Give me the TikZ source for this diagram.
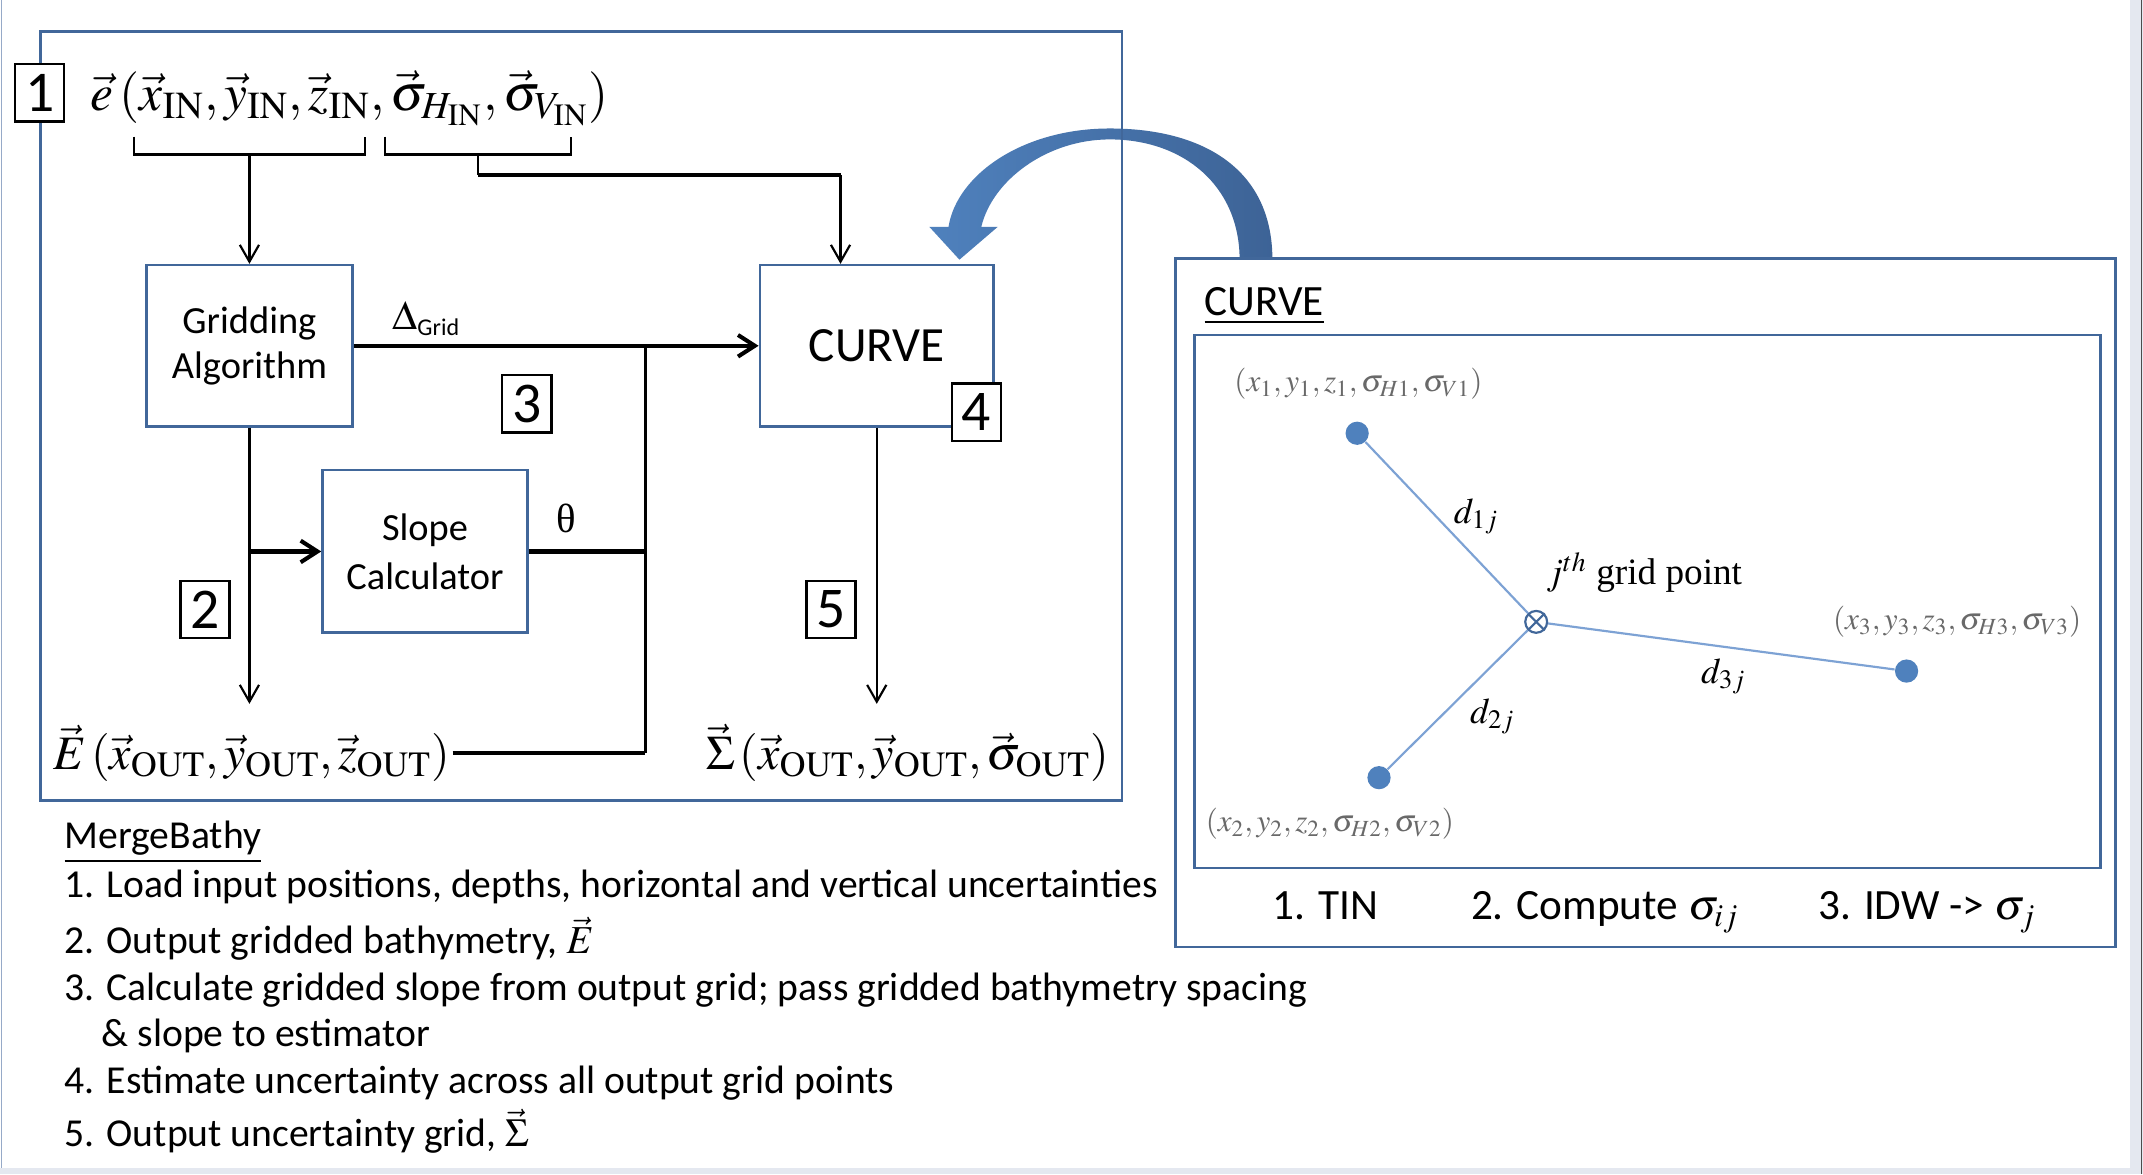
\documentclass[tikz,border=0pt]{standalone}
\usepackage{amsmath}
\usepackage{mathptmx}
\usepackage[no-math]{fontspec}
\setmainfont{Carlito}
\newfontfamily\timesfont{Liberation Serif}
\usetikzlibrary{calc, positioning}
\usetikzlibrary{arrows.meta}

\definecolor{boxblue}{RGB}{65,103,154}
\definecolor{arrowlight}{RGB}{79,129,189}
\definecolor{arrowdark}{RGB}{61,99,150}
\definecolor{linkblue}{RGB}{125,162,212}
\definecolor{bandgray}{RGB}{228,232,240}
\definecolor{edgeblue}{RGB}{150,170,200}
\definecolor{tuplegray}{RGB}{105,105,105}

\begin{document}
\begin{tikzpicture}[x=0.02cm, y=-0.02cm,
  block/.style={draw=boxblue, line width=1.1pt, fill=white, align=center, inner sep=0pt},
  numbox/.style={draw=black, line width=1pt, fill=white, minimum width=0.72cm, minimum height=0.84cm, inner sep=0pt, font=\fontsize{24}{24}\selectfont},
  flow/.style={line width=0.9pt, -{Straight Barb[length=7pt, width=8pt]}},
  wire/.style={line width=1.7pt},
  thickflow/.style={line width=1.7pt, -{Straight Barb[length=7pt, width=9pt]}},
  eqn/.style={inner sep=1pt, font=\fontsize{20}{24}\selectfont},
  listline/.style={anchor=base west, inner sep=0pt, font=\fontsize{16.5}{19}\selectfont},
  tuple/.style={text=tuplegray, inner sep=0pt, font=\fontsize{13}{15}\selectfont},
  dlabel/.style={inner sep=0pt, font=\fontsize{15}{18}\selectfont},
  tinlabel/.style={anchor=base west, inner sep=0pt, font=\fontsize{18}{20}\selectfont},
  dot/.style={circle, fill=arrowlight, minimum size=0.34cm, inner sep=0pt},
  link/.style={draw=linkblue, line width=0.9pt},
  panelbox/.style={draw=boxblue, line width=1.1pt}
]
\useasboundingbox (0,0) rectangle (1568,859);
\fill[bandgray] (0,0) rectangle (1568,859);
\fill[white] (0,0) rectangle (1558.5,854.6);
\draw[edgeblue, line width=0.6pt] (1.2,0) -- (1.2,854.6);
\draw[black!70, line width=0.6pt] (1566.8,0) -- (1566.8,859);

\shade[left color=arrowlight, right color=arrowdark]
  (931,190) .. controls (931,122) and (878,94) .. (812,94)
  .. controls (748,94) and (700,128) .. (694,166)
  -- (680,166) -- (702,190) -- (730,166) -- (718,166)
  .. controls (726,132) and (766,102) .. (812,102)
  .. controls (866,102) and (907,136) .. (907,190) -- cycle;

\draw[panelbox] (29.5,23) rectangle (821,585.5);

\node[block, minimum width=3.02cm, minimum height=2.36cm, font=\fontsize{16}{19}\selectfont] (gridding) at (182.5,253) {Gridding\\Algorithm};
\node[block, minimum width=3.42cm, minimum height=2.36cm, font=\fontsize{20.5}{24}\selectfont] (curve) at (641.5,253) {CURVE};
\node[block, minimum width=3.0cm, minimum height=2.38cm, font=\fontsize{16}{20.5}\selectfont] (slope) at (311,403.5) {Slope\\Calculator};

\node[eqn, font=\fontsize{21.5}{26}\selectfont] (eIn) at (256,72) {$\vec{e}\left(\vec{x}_{\mathrm{IN}},\vec{y}_{\mathrm{IN}},\vec{z}_{\mathrm{IN}},\vec{\sigma}_{H_{\mathrm{IN}}},\vec{\sigma}_{V_{\mathrm{IN}}}\right)$};
\node[eqn] (eOut) at (184,551) {$\vec{E}\left(\vec{x}_{\mathrm{OUT}},\vec{y}_{\mathrm{OUT}},\vec{z}_{\mathrm{OUT}}\right)$};
\node[eqn] (sigmaOut) at (664,551) {$\vec{\Sigma}\left(\vec{x}_{\mathrm{OUT}},\vec{y}_{\mathrm{OUT}},\vec{\sigma}_{\mathrm{OUT}}\right)$};

\draw[line width=0.9pt] (98,100) -- (98,113) -- (267,113) -- (267,100);
\draw[line width=0.9pt] (282,100) -- (282,113) -- (418,113) -- (418,100);
\coordinate (brL) at (182.5,113);
\coordinate (brR) at (350,113);
\coordinate (bendR) at (615,128);
\coordinate (junc) at (472,253);
\coordinate (gridOut) at (182.5,515);

\draw[flow] (brL) -- (gridding.north);
\draw[line width=0.9pt] (brR) -- (brR |- bendR);
\draw[wire] (brR |- bendR) -- (bendR);
\draw[flow] (bendR) -- (bendR |- curve.north);

\draw[thickflow] (gridding.east) -- (curve.west);
\draw[line width=1.2pt] (junc) -- (junc |- eOut.east);
\draw[wire] (eOut.east) -- (eOut.east -| junc);
\draw[wire] (slope.east) -- (slope.east -| junc);
\draw[flow] (gridding.south) -- (gridOut);
\draw[thickflow] (gridding.south |- slope.west) -- (slope.west);
\draw[flow] (curve.south) -- (curve.south |- gridOut);

\node[font=\fontsize{17}{20}\selectfont] (dgrid) at (312,233) {$\Delta_{\mbox{\fontsize{10}{10}\selectfont Grid}}$};
\node[font=\fontsize{17}{20}\selectfont\timesfont] (theta) at (414,379) {θ};

\node[numbox] (n1) at (29,68) {1};
\node[numbox] (n2) at (150,446) {2};
\node[numbox] (n3) at (385.5,295.5) {3};
\node[numbox] (n4) at (714.5,301.5) {4};
\node[numbox] (n5) at (608,446) {5};

\node[listline] (title) at (47,621) {\underline{MergeBathy}};
\node[listline] (item1) at (47,657) {1. Load input positions, depths, horizontal and vertical uncertainties};
\node[listline] (item2) at (47,698) {2. Output gridded bathymetry, $\vec{E}$};
\node[listline] (item3) at (47,732) {3. Calculate gridded slope from output grid; pass gridded bathymetry spacing};
\node[listline] (item3b) at (74,766) {\& slope to estimator};
\node[listline] (item4) at (47,800) {4. Estimate uncertainty across all output grid points};
\node[listline] (item5) at (47,839) {5. Output uncertainty grid, $\vec{\Sigma}$};

\draw[panelbox] (860,189) rectangle (1548,693);
\draw[panelbox] (874,245) rectangle (1537,635);
\node[anchor=base west, inner sep=0pt, font=\fontsize{18}{20}\selectfont] (curvetitle) at (881,231) {\underline{CURVE}};

\node[dot] (p1) at (993,317) {};
\node[dot] (p2) at (1009,569) {};
\node[dot] (p3) at (1395,491) {};
\node[circle, draw=boxblue, line width=0.9pt, fill=white, minimum size=0.32cm, inner sep=0pt] (gp) at (1124,455) {};
\draw[boxblue, line width=0.9pt] (gp.north west) -- (gp.south east) (gp.north east) -- (gp.south west);
\draw[link] (p1) -- (gp);
\draw[link] (gp) -- (p2);
\draw[link] (gp) -- (p3);

\node[tuple] (t1) at (994,281) {$\left(x_1,y_1,z_1,\sigma_{H1},\sigma_{V1}\right)$};
\node[tuple] (t2) at (973,603) {$\left(x_2,y_2,z_2,\sigma_{H2},\sigma_{V2}\right)$};
\node[tuple] (t3) at (1432,455) {$\left(x_3,y_3,z_3,\sigma_{H3},\sigma_{V3}\right)$};

\node[dlabel] (d1) at (1080,378) {$d_{1j}$};
\node[dlabel] (d2) at (1092,524) {$d_{2j}$};
\node[dlabel] (d3) at (1261,495) {$d_{3j}$};
\node[inner sep=0pt, font=\fontsize{15.5}{18}\selectfont\timesfont] (gplabel) at (1203,419) {$j^{th}$ grid point};

\node[tinlabel] (tin) at (931,673) {1. TIN};
\node[tinlabel] (compute) at (1076,673) {2. Compute $\sigma_{ij}$};
\node[tinlabel] (idw) at (1330,673) {3. IDW -> $\sigma_j$};
\end{tikzpicture}
\end{document}
